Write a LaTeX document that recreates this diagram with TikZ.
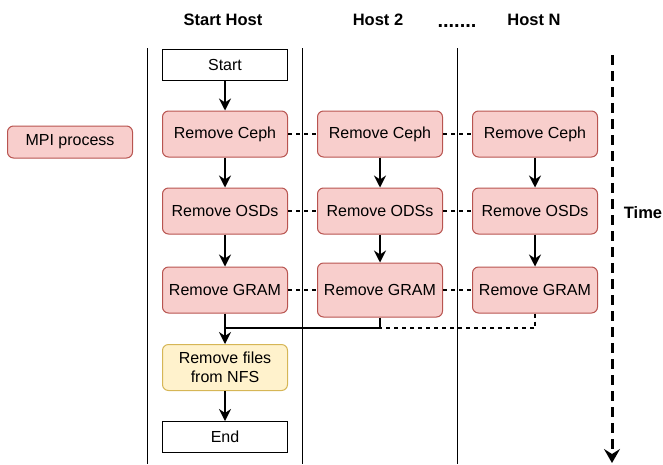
\documentclass[tikz,border=0pt]{standalone}
\usepackage{fontspec}
\setmainfont{Liberation Sans}
\usetikzlibrary{arrows.meta}
\definecolor{redfill}{HTML}{F8CECC}
\definecolor{redline}{HTML}{B85450}
\definecolor{yelfill}{HTML}{FFF2CC}
\definecolor{yelline}{HTML}{D6B656}
\tikzset{
  proc/.style={draw=redline,fill=redfill,rounded corners=6pt,line width=1pt,minimum width=125pt,minimum height=46pt,font=\fontsize{16}{19}\selectfont},
  nfsbox/.style={proc,draw=yelline,fill=yelfill,align=center},
  termbox/.style={draw,line width=1pt,minimum width=125pt,minimum height=31pt,font=\fontsize{16}{19}\selectfont},
  head/.style={font=\fontsize{16.5}{19}\selectfont\bfseries},
  flow/.style={line width=1.4pt,-{Stealth[length=12pt,width=12pt,inset=4pt]}},
  sync/.style={line width=1.1pt,dash pattern=on 4pt off 4pt}
}
\begin{document}
\begin{tikzpicture}[x=1pt,y=-1pt]
  \useasboundingbox (0,0) rectangle (663,464);
  % host lanes
  \foreach \x in {147,302,457} \draw[line width=1pt] (\x,48) -- (\x,464);
  \node[head] (h1) at (223,20) {Start Host};
  \node[head] (h2) at (378,20) {Host 2};
  \node[head,font=\fontsize{20}{20}\selectfont\bfseries] (hd) at (457,26) {.......};
  \node[head] (hn) at (534,20) {Host N};
  % legend
  \node[proc,minimum height=32pt] (mpi) at (70,142) {MPI process};
  % start host
  \node[termbox] (start) at (225,65) {Start};
  \node[proc] (c1) at (225,134) {Remove Ceph};
  \node[proc] (o1) at (225,211) {Remove OSDs};
  \node[proc,inner xsep=1pt] (g1) at (225,290) {Remove GRAM};
  \node[nfsbox] (nfs) at (225,367.5) {Remove files\\from NFS};
  \node[termbox] (end) at (225,437) {End};
  % host 2
  \node[proc] (c2) at (380,134) {Remove Ceph};
  \node[proc] (o2) at (380,211) {Remove ODSs};
  \node[proc,minimum height=54pt,inner xsep=1pt] (g2) at (380,290) {Remove GRAM};
  % host N
  \node[proc] (c3) at (535,134) {Remove Ceph};
  \node[proc] (o3) at (535,211) {Remove OSDs};
  \node[proc,inner xsep=1pt] (g3) at (535,290) {Remove GRAM};
  \coordinate (m1) at (225,328);
  \coordinate (m2) at (380,328);
  % flow
  \draw[flow] (start) -- (c1);
  \draw[flow] (c1) -- (o1);
  \draw[flow] (o1) -- (g1);
  \draw[flow] (g1) -- (nfs);
  \draw[flow] (nfs) -- (end);
  \draw[flow] (c2) -- (o2);
  \draw[flow] (o2) -- (g2);
  \draw[flow] (c3) -- (o3);
  \draw[flow] (o3) -- (g3);
  \draw[line width=1.4pt] (g2.south) |- (m1);
  \draw[sync] (g3.south) |- (m2);
  % sync between hosts
  \foreach \a/\b in {c1/c2,c2/c3,o1/o2,o2/o3,g1/g2,g2/g3} \draw[sync] (\a) -- (\b);
  % time axis
  \coordinate (t0) at (612,55);
  \coordinate (t1) at (612,463);
  \draw[line width=3pt,dash pattern=on 10pt off 6pt,-{Stealth[length=14pt,width=16pt,inset=5pt]}] (t0) -- (t1);
  \node[head] (time) at (643,213) {Time};
\end{tikzpicture}
\end{document}
